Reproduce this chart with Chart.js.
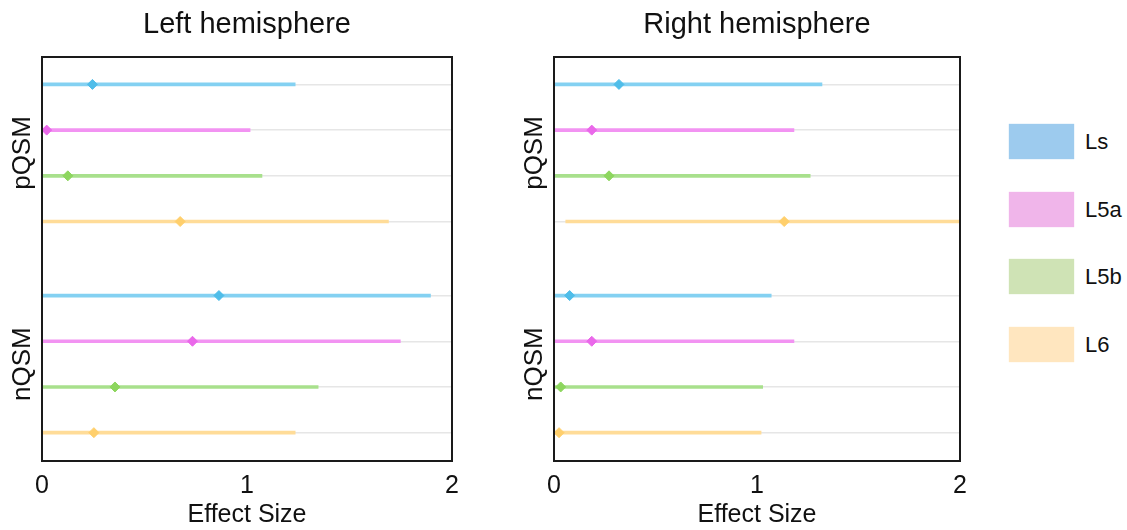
<!DOCTYPE html>
<html>
<head>
<meta charset="utf-8">
<script src="https://cdn.jsdelivr.net/npm/chart.js@4.4.1/dist/chart.umd.min.js"></script>
<style>
  body { margin: 0; background: #fff; width: 1127px; height: 530px; overflow: hidden; position: relative;
         font-family: "Liberation Sans", Arial, sans-serif; }
  .panel { position: absolute; top: 0; height: 530px; }
  #leftWrap { left: 0; width: 510px; }
  #rightWrap { left: 510px; width: 470px; }
  .key { position: absolute; left: 1009px; width: 65px; height: 35px; }
  .keyText { position: absolute; left: 1085px; font-size: 22px; color: #111; line-height: 35px; }
</style>
</head>
<body>
<div class="panel" id="leftWrap"><canvas id="leftChart"></canvas></div>
<div class="panel" id="rightWrap"><canvas id="rightChart"></canvas></div>
<div id="legend"></div>
<script>
// rows: pQSM Ls, L5a, L5b, L6, then nQSM Ls, L5a, L5b, L6
const layers = ['Ls', 'L5a', 'L5b', 'L6'];
const groups = ['pQSM', 'nQSM'];

const leftEst  = [0.246, 0.023, 0.126, 0.674, 0.863, 0.734, 0.356, 0.253];
const leftLow  = [-0.74, -0.97, -0.82, -0.34, -0.17, -0.28, -0.64, -0.73];
const leftHigh = [1.235, 1.015, 1.073, 1.69, 1.895, 1.748, 1.347, 1.235];

const rightEst  = [0.32, 0.186, 0.271, 1.134, 0.077, 0.186, 0.033, 0.025];
const rightLow  = [-0.68, -0.81, -0.72, 0.058, -0.92, -0.81, -0.96, -0.97];
const rightHigh = [1.32, 1.182, 1.262, 2.21, 1.07, 1.182, 1.028, 1.02];

const xTicks = [0, 1, 2];

const lineColors = ['#84d1f2', '#f293f2', '#a8e08c', '#ffdc98'];
const dotColors  = ['#4fbde9', '#ea68ea', '#8dd65e', '#ffcf6c'];
const keyColors  = ['#9dcbee', '#f0b5ea', '#cfe3b5', '#ffe6bf'];

const FONT = '"Liberation Sans", Arial, sans-serif';
const groupStart = [0.6, 5.22];
const yMax = 8.84;
const rowPos = [];
groups.forEach((g, gi) => layers.forEach((l, li) => rowPos.push(groupStart[gi] + li)));

function makeDatasets(est, low, high) {
  const sets = [];
  layers.forEach((name, li) => {
    const idx = [li, li + layers.length];
    sets.push({
      type: 'scatter', label: name, order: 0, clip: false,
      data: idx.map(i => ({ x: est[i], y: rowPos[i] })),
      pointStyle: 'rectRot', pointRadius: 5, pointHoverRadius: 5,
      backgroundColor: dotColors[li], borderColor: dotColors[li], borderWidth: 1
    });
    sets.push({
      type: 'bar', label: name + ' CI', order: 1, grouped: false,
      data: idx.map(i => ({ x: [low[i], high[i]], y: rowPos[i] })),
      backgroundColor: lineColors[li], barThickness: 3, borderWidth: 0
    });
  });
  return sets;
}

const panelDeco = {
  id: 'panelDeco',
  afterDraw(chart) {
    const { ctx, chartArea: a, scales } = chart;
    ctx.save();
    ctx.strokeStyle = '#1a1a1a';
    ctx.lineWidth = 2;
    ctx.strokeRect(a.left, a.top, a.right - a.left, a.bottom - a.top);
    ctx.fillStyle = '#111';
    ctx.font = '26px ' + FONT;
    ctx.textAlign = 'center';
    ctx.textBaseline = 'middle';
    groups.forEach((g, gi) => {
      const y = scales.y.getPixelForValue(groupStart[gi] + 1.5);
      ctx.save();
      ctx.translate(a.left - 19, y);
      ctx.rotate(-Math.PI / 2);
      ctx.fillText(g, 0, 0);
      ctx.restore();
    });
    ctx.restore();
  }
};

function makeChart(id, title, est, low, high, leftW, rightPad) {
  return new Chart(document.getElementById(id), {
    type: 'bar',
    data: { datasets: makeDatasets(est, low, high) },
    plugins: [panelDeco],
    options: {
      indexAxis: 'y',
      responsive: true,
      maintainAspectRatio: false,
      animation: false,
      layout: { padding: { left: 0, right: rightPad, top: 0, bottom: 0 } },
      plugins: {
        legend: { display: false },
        tooltip: { enabled: false },
        title: {
          display: true, text: title, fullSize: false, color: '#111',
          font: { family: FONT, size: 29, weight: 'normal' },
          padding: { top: 8, bottom: 14.2 }
        }
      },
      scales: {
        x: {
          type: 'linear', min: 0, max: 2,
          grid: { display: false },
          border: { display: false },
          afterBuildTicks: s => { s.ticks = xTicks.map(v => ({ value: v })); },
          ticks: { color: '#111', padding: 2, font: { family: FONT, size: 25 } },
          title: {
            display: true, text: 'Effect Size', color: '#111',
            font: { family: FONT, size: 25 }, padding: { top: 0, bottom: 0 }
          },
          afterFit: s => { s.height = 69; }
        },
        y: {
          type: 'linear', min: 0, max: yMax, reverse: true, offset: false,
          afterBuildTicks: s => { s.ticks = rowPos.map(v => ({ value: v })); },
          ticks: { display: false },
          grid: { color: '#e6e6e6', lineWidth: 1.5, drawTicks: false, offset: false },
          border: { display: false },
          afterFit: s => { s.width = leftW; }
        }
      }
    }
  });
}

makeChart('leftChart', 'Left hemisphere', leftEst, leftLow, leftHigh, 42, 58);
makeChart('rightChart', 'Right hemisphere', rightEst, rightLow, rightHigh, 44, 20);

const legend = document.getElementById('legend');
layers.forEach((name, i) => {
  const top = 124 + i * 67.7;
  const box = document.createElement('div');
  box.className = 'key';
  box.style.top = top + 'px';
  box.style.background = keyColors[i];
  box.style.boxShadow = '0 0 1px ' + keyColors[i];
  legend.appendChild(box);
  const txt = document.createElement('div');
  txt.className = 'keyText';
  txt.style.top = top + 'px';
  txt.textContent = name;
  legend.appendChild(txt);
});
</script>
</body>
</html>
